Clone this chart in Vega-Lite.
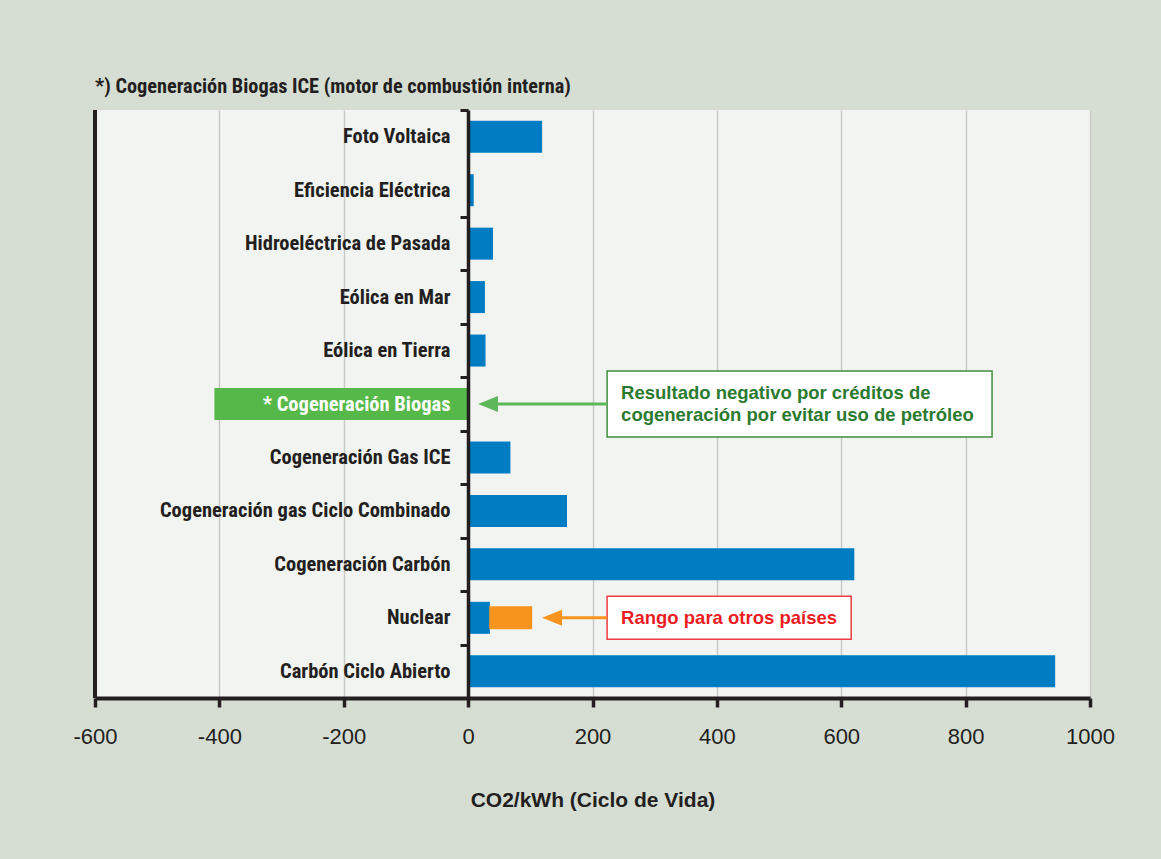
{
  "$schema": "https://vega.github.io/schema/vega-lite/v6.json",
  "autosize": "none",
  "width": 995,
  "height": 588,
  "padding": {"left": 95, "top": 110, "right": 71, "bottom": 161},
  "background": "#d6ded4",
  "config": {
    "view": {"fill": "#f2f4f1", "stroke": null},
    "font": "Liberation Sans"
  },
  "title": {
    "text": "*) Cogeneración Biogas ICE (motor de combustión interna)",
    "anchor": "start",
    "frame": "group",
    "font": "Roboto Condensed, DejaVu Sans Condensed, Roboto",
    "fontSize": 20.3,
    "fontWeight": "bold",
    "color": "#231f20",
    "offset": 3
  },
  "datasets": {
    "barras": [
      {"cat": "Foto Voltaica", "valor": 119, "serie": "positivo"},
      {"cat": "Eficiencia Eléctrica", "valor": 9, "serie": "positivo"},
      {"cat": "Hidroeléctrica de Pasada", "valor": 40, "serie": "positivo"},
      {"cat": "Eólica en Mar", "valor": 27, "serie": "positivo"},
      {"cat": "Eólica en Tierra", "valor": 28, "serie": "positivo"},
      {"cat": "* Cogeneración Biogas", "valor": -408, "serie": "negativo"},
      {"cat": "Cogeneración Gas ICE", "valor": 68, "serie": "positivo"},
      {"cat": "Cogeneración gas Ciclo Combinado", "valor": 159, "serie": "positivo"},
      {"cat": "Cogeneración Carbón", "valor": 621, "serie": "positivo"},
      {"cat": "Nuclear", "valor": 35, "serie": "positivo"},
      {"cat": "Carbón Ciclo Abierto", "valor": 944, "serie": "positivo"}
    ],
    "rango": [
      {"cat": "Nuclear", "desde": 34, "hasta": 103}
    ],
    "marco": [
      {"x": -600}
    ],
    "notas": [
      {"nota": "verde", "cat": "* Cogeneración Biogas", "cajaDesde": 223.5, "cajaHasta": 842.5, "flechaDesde": 223.5, "flechaHasta": 32, "texto": ["Resultado negativo por créditos de", "cogeneración por evitar uso de petróleo"], "textoX": 246},
      {"nota": "roja", "cat": "Nuclear", "cajaDesde": 223.5, "cajaHasta": 616, "flechaDesde": 223.5, "flechaHasta": 135, "texto": ["Rango para otros países"], "textoX": 246}
    ]
  },
  "encoding": {
    "y": {
      "field": "cat",
      "type": "nominal",
      "scale": {
        "domain": ["Foto Voltaica", "Eficiencia Eléctrica", "Hidroeléctrica de Pasada", "Eólica en Mar", "Eólica en Tierra", "* Cogeneración Biogas", "Cogeneración Gas ICE", "Cogeneración gas Ciclo Combinado", "Cogeneración Carbón", "Nuclear", "Carbón Ciclo Abierto"],
        "paddingInner": 0,
        "paddingOuter": 0
      },
      "axis": {
        "title": null,
        "orient": "left",
        "offset": -373,
        "zindex": 1,
        "domainColor": "#231f20",
        "domainWidth": 3.5,
        "tickBand": "extent",
        "tickColor": "#231f20",
        "tickSize": 8,
        "tickWidth": 3,
        "tickOpacity": {"expr": "datum.value === 'Foto Voltaica' ? 0 : 1"},
        "labelPadding": 10,
        "labelFont": "Roboto Condensed, DejaVu Sans Condensed, Roboto",
        "labelFontSize": 20.5,
        "labelFontWeight": "bold",
        "labelLimit": 0,
        "labelColor": {"expr": "datum.value === '* Cogeneración Biogas' ? '#ffffff' : '#231f20'"}
      }
    }
  },
  "layer": [
    {
      "data": {"name": "barras"},
      "mark": {"type": "bar", "height": 32},
      "encoding": {
        "x": {
          "field": "valor",
          "type": "quantitative",
          "scale": {"domain": [-600, 1000], "nice": false, "zero": false},
          "axis": {
            "values": [-600, -400, -200, 0, 200, 400, 600, 800, 1000],
            "labelExpr": "'' + datum.value",
            "labelFlush": false,
            "title": "CO2/kWh (Ciclo de Vida)",
            "titleFont": "Liberation Sans",
            "titleFontSize": 21,
            "titleFontWeight": "bold",
            "titleColor": "#231f20",
            "titlePadding": 42,
            "labelFont": "Liberation Sans",
            "labelFontSize": 22,
            "labelColor": "#231f20",
            "labelPadding": 19,
            "domainColor": "#231f20",
            "domainWidth": 4,
            "tickColor": "#231f20",
            "tickSize": 9,
            "tickWidth": 3.5,
            "grid": true,
            "gridColor": "#c9c9c9",
            "gridWidth": 1.5,
            "zindex": 0
          }
        },
        "color": {
          "field": "serie",
          "type": "nominal",
          "scale": {"domain": ["positivo", "negativo"], "range": ["#007cc3", "#55b848"]},
          "legend": null
        }
      }
    },
    {
      "data": {"name": "rango"},
      "mark": {"type": "bar", "height": 23, "color": "#f7941d"},
      "encoding": {
        "x": {"field": "desde", "type": "quantitative"},
        "x2": {"field": "hasta"}
      }
    },
    {
      "data": {"name": "marco"},
      "mark": {"type": "rule", "color": "#231f20", "strokeWidth": 4},
      "encoding": {
        "x": {"field": "x", "type": "quantitative"},
        "y": null
      }
    },
    {
      "data": {"name": "notas"},
      "transform": [{"filter": "datum.nota === 'verde'"}],
      "mark": {"type": "bar", "height": 66, "fill": "#ffffff", "stroke": "#3f8f3f", "strokeWidth": 1.5},
      "encoding": {
        "x": {"field": "cajaDesde", "type": "quantitative"},
        "x2": {"field": "cajaHasta"}
      }
    },
    {
      "data": {"name": "notas"},
      "transform": [{"filter": "datum.nota === 'roja'"}],
      "mark": {"type": "bar", "height": 43, "fill": "#ffffff", "stroke": "#ee3b3f", "strokeWidth": 1.5},
      "encoding": {
        "x": {"field": "cajaDesde", "type": "quantitative"},
        "x2": {"field": "cajaHasta"}
      }
    },
    {
      "data": {"name": "notas"},
      "mark": {"type": "rule", "strokeWidth": 3},
      "encoding": {
        "x": {"field": "flechaDesde", "type": "quantitative"},
        "x2": {"field": "flechaHasta"},
        "color": {
          "field": "nota",
          "type": "nominal",
          "scale": {"domain": ["verde", "roja"], "range": ["#5cb85a", "#f7941d"]},
          "legend": null
        }
      }
    },
    {
      "data": {"name": "notas"},
      "mark": {"type": "point", "shape": "M1,-0.8L1,0.8L-1,0Z", "size": 400, "filled": true, "opacity": 1, "strokeWidth": 0},
      "encoding": {
        "x": {"field": "flechaHasta", "type": "quantitative"},
        "color": {
          "field": "nota",
          "type": "nominal",
          "scale": {"domain": ["verde", "roja"], "range": ["#5cb85a", "#f7941d"]},
          "legend": null
        }
      }
    },
    {
      "data": {"name": "notas"},
      "transform": [{"filter": "datum.nota === 'verde'"}],
      "mark": {"type": "text", "align": "left", "baseline": "middle", "dy": -11, "font": "Liberation Sans", "fontSize": 18.5, "fontWeight": "bold", "lineHeight": 22, "color": "#2b7a2f"},
      "encoding": {
        "x": {"field": "textoX", "type": "quantitative"},
        "text": {"field": "texto"}
      }
    },
    {
      "data": {"name": "notas"},
      "transform": [{"filter": "datum.nota === 'roja'"}],
      "mark": {"type": "text", "align": "left", "baseline": "middle", "font": "Liberation Sans", "fontSize": 18.5, "fontWeight": "bold", "color": "#ed1c24"},
      "encoding": {
        "x": {"field": "textoX", "type": "quantitative"},
        "text": {"field": "texto"}
      }
    }
  ],
  "resolve": {"scale": {"color": "independent"}}
}
